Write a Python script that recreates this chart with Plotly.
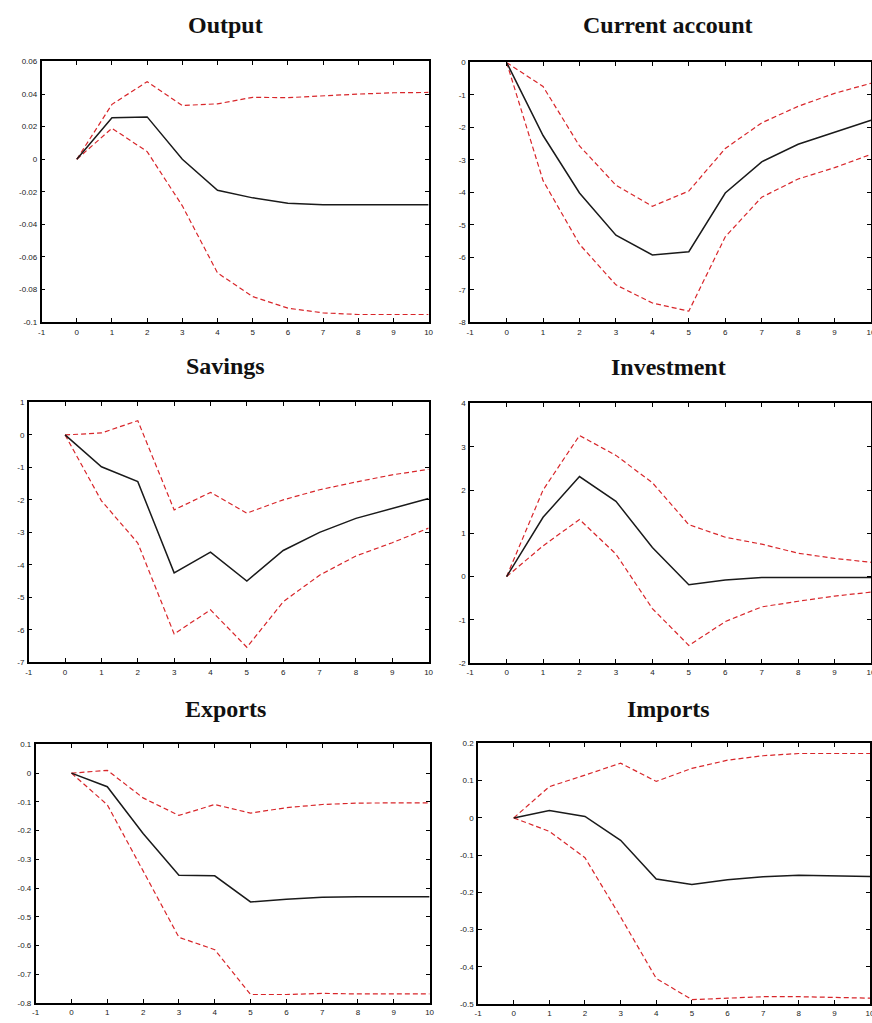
import plotly.graph_objects as go

# Impulse-response horizons
horizon = [0, 1, 2, 3, 4, 5, 6, 7, 8, 9, 10]

# Output
output_mean  = [0, 0.0255, 0.026, 0.0, -0.019, -0.0237, -0.027, -0.028, -0.028, -0.028, -0.028]
output_upper = [0, 0.0337, 0.0476, 0.033, 0.034, 0.038, 0.0378, 0.039, 0.040, 0.0408, 0.041]
output_lower = [0, 0.019, 0.0047, -0.0286, -0.0698, -0.0843, -0.0914, -0.0943, -0.0953, -0.0955, -0.0953]

# Current account
ca_mean  = [0, -2.25, -4.02, -5.32, -5.93, -5.83, -4.02, -3.06, -2.52, -2.15, -1.78]
ca_upper = [0, -0.74, -2.57, -3.78, -4.43, -3.96, -2.65, -1.86, -1.35, -0.95, -0.64]
ca_lower = [0, -3.64, -5.60, -6.85, -7.41, -7.66, -5.37, -4.15, -3.59, -3.24, -2.83]

# Savings
sav_mean  = [0, -0.98, -1.44, -4.25, -3.61, -4.50, -3.56, -3.00, -2.57, -2.26, -1.96]
sav_upper = [0, 0.06, 0.44, -2.31, -1.77, -2.41, -2.00, -1.69, -1.45, -1.23, -1.06]
sav_lower = [0, -2.03, -3.33, -6.13, -5.39, -6.54, -5.14, -4.32, -3.73, -3.32, -2.87]

# Investment
inv_mean  = [0, 1.37, 2.31, 1.74, 0.67, -0.19, -0.08, -0.02, -0.02, -0.02, -0.02]
inv_upper = [0, 2.00, 3.26, 2.80, 2.17, 1.20, 0.91, 0.75, 0.54, 0.42, 0.33]
inv_lower = [0, 0.71, 1.32, 0.52, -0.74, -1.59, -1.04, -0.70, -0.57, -0.45, -0.36]

# Exports
exp_mean  = [0, -0.047, -0.21, -0.355, -0.357, -0.448, -0.439, -0.432, -0.43, -0.43, -0.43]
exp_upper = [0, 0.01, -0.086, -0.147, -0.109, -0.139, -0.12, -0.109, -0.104, -0.103, -0.103]
exp_lower = [0, -0.11, -0.34, -0.571, -0.614, -0.77, -0.77, -0.766, -0.768, -0.768, -0.768]

# Imports
imp_mean  = [0, 0.02, 0.004, -0.06, -0.164, -0.179, -0.166, -0.158, -0.154, -0.155, -0.157]
imp_upper = [0, 0.084, 0.115, 0.147, 0.098, 0.133, 0.155, 0.167, 0.173, 0.173, 0.173]
imp_lower = [0, -0.036, -0.107, -0.266, -0.431, -0.488, -0.484, -0.48, -0.48, -0.482, -0.484]

titles = ["Output", "Current account", "Savings", "Investment", "Exports", "Imports"]
means  = [output_mean, ca_mean, sav_mean, inv_mean, exp_mean, imp_mean]
uppers = [output_upper, ca_upper, sav_upper, inv_upper, exp_upper, imp_upper]
lowers = [output_lower, ca_lower, sav_lower, inv_lower, exp_lower, imp_lower]

# y-axis ranges and tick steps per panel
y_ranges = [(-0.1, 0.06), (-8, 0), (-7, 1), (-2, 4), (-0.8, 0.1), (-0.5, 0.2)]
y_dticks = [0.02, 1, 1, 1, 0.1, 0.1]
x_range = (-1, 10)

W, H = 878, 1023
# plot boxes in pixels: left, right, top, bottom
boxes = [
    (38, 429, 58, 321),
    (471, 876, 59, 321),
    (25, 429, 402, 664),
    (471, 876, 403, 665),
    (32, 430, 747, 1008),
    (479, 875, 746, 1009),
]
title_pos = [(224, 21), (671, 21), (224, 365), (671, 366), (224, 711), (671, 711)]

fig = go.Figure()
layout = dict(
    width=W, height=H,
    margin=dict(l=0, r=0, t=0, b=0),
    paper_bgcolor="white", plot_bgcolor="white",
    showlegend=False,
    font=dict(family="Liberation Sans, Arial, sans-serif", size=8, color="#222"),
    annotations=[],
)

def fmt(v):
    s = ("%.2f" % v).rstrip("0").rstrip(".")
    return "0" if s in ("-0", "0") else s

band_line = dict(color="#d8262a", width=1.2, dash="5px,3px")

for i in range(6):
    n = "" if i == 0 else str(i + 1)
    xa, ya = "x" + n, "y" + n
    l, r, t, b = boxes[i]
    y0, y1 = y_ranges[i]
    step = y_dticks[i]
    nticks = int(round((y1 - y0) / step))
    yvals = [y0 + k * step for k in range(nticks + 1)]

    fig.add_trace(go.Scatter(x=horizon, y=uppers[i], mode="lines", xaxis=xa, yaxis=ya,
                             line=band_line))
    fig.add_trace(go.Scatter(x=horizon, y=lowers[i], mode="lines", xaxis=xa, yaxis=ya,
                             line=band_line))
    fig.add_trace(go.Scatter(x=horizon, y=means[i], mode="lines", xaxis=xa, yaxis=ya,
                             line=dict(color="#1a1a1a", width=1.5)))

    axis_common = dict(showgrid=False, zeroline=False, showline=True, linecolor="black",
                       linewidth=1.5, mirror="allticks", ticks="inside", ticklen=4,
                       tickwidth=1.2, tickcolor="black",
                       tickfont=dict(size=8, color="#222"))
    layout["xaxis" + n] = dict(axis_common, domain=[l / W, r / W], range=list(x_range),
                               tickmode="array", tickvals=list(range(-1, 11)),
                               ticktext=[str(v) for v in range(-1, 11)],
                               anchor=ya, ticklabelstandoff=1)
    layout["yaxis" + n] = dict(axis_common, domain=[1 - b / H, 1 - t / H], range=[y0, y1],
                               tickmode="array", tickvals=yvals,
                               ticktext=[fmt(v) for v in yvals],
                               anchor=xa, ticklabelstandoff=1)
    tx, ty = title_pos[i]
    layout["annotations"].append(dict(
        text="<b>" + titles[i] + "</b>", x=tx / W, y=1 - ty / H, xref="paper", yref="paper",
        xanchor="center", yanchor="middle", showarrow=False,
        font=dict(family="Liberation Serif, Times New Roman, serif", size=24, color="#111"),
    ))

fig.update_layout(**layout)
fig.write_html("out.html",
               post_script="document.body.style.overflow='hidden';"
                           "document.documentElement.style.overflow='hidden';")
